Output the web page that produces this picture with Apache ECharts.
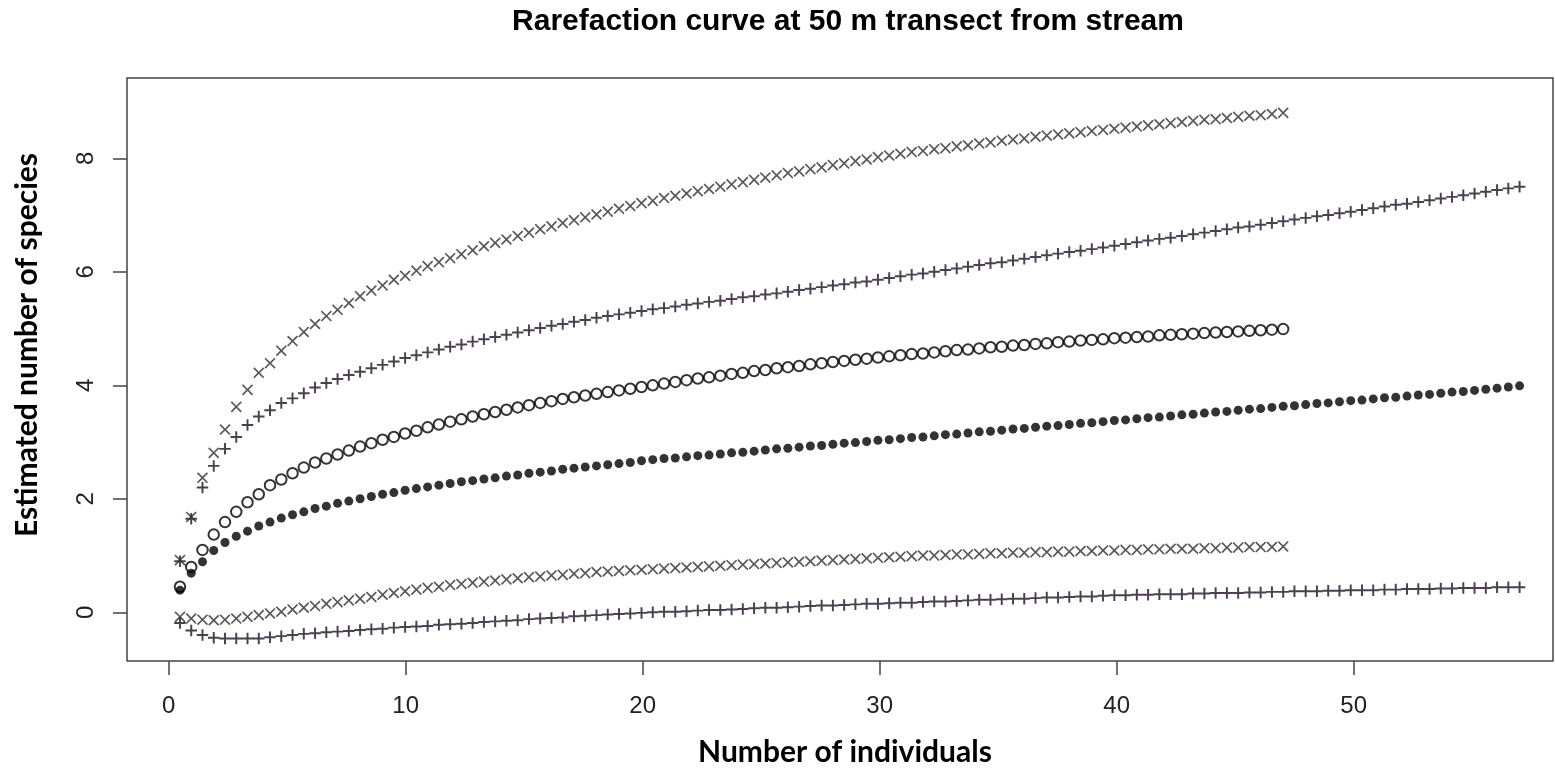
<!DOCTYPE html>
<html><head><meta charset="utf-8">
<script src="https://cdn.jsdelivr.net/npm/echarts@6/dist/echarts.min.js"></script>
<style>html,body{margin:0;padding:0;background:#fff}#c{width:1555px;height:768px}</style>
</head><body><div id="c"></div><script>
// x positions: uniform sample sizes
const xStep = 0.475;
const xTicks = [0, 10, 20, 30, 40, 50];
const yTicks = [0, 2, 4, 6, 8];

// Site A (57 individuals): mean (filled dots), upper/lower bounds (+)
const meanA = [0.39,0.69,0.89,1.09,1.23,1.34,1.43,1.52,1.59,1.66,
1.72,1.77,1.83,1.87,1.92,1.96,2.00,2.04,2.08,2.11,
2.15,2.18,2.21,2.24,2.27,2.30,2.32,2.35,2.37,2.40,
2.42,2.45,2.47,2.49,2.52,2.54,2.56,2.58,2.60,2.62,
2.64,2.67,2.69,2.71,2.72,2.74,2.76,2.77,2.79,2.81,
2.82,2.84,2.86,2.88,2.89,2.91,2.93,2.94,2.96,2.98,
2.99,3.01,3.03,3.04,3.06,3.08,3.09,3.11,3.13,3.14,
3.16,3.18,3.19,3.21,3.23,3.24,3.26,3.28,3.29,3.31,
3.33,3.34,3.36,3.38,3.39,3.41,3.43,3.44,3.46,3.48,
3.49,3.51,3.53,3.54,3.56,3.58,3.59,3.61,3.63,3.64,
3.66,3.68,3.69,3.71,3.73,3.74,3.76,3.78,3.79,3.81,
3.83,3.84,3.86,3.88,3.89,3.91,3.93,3.95,3.97,3.99];
const upperA = [0.90,1.65,2.20,2.58,2.88,3.09,3.30,3.45,3.56,3.69,
3.77,3.86,3.96,4.04,4.11,4.18,4.24,4.30,4.36,4.42,
4.48,4.53,4.58,4.63,4.68,4.72,4.77,4.81,4.85,4.89,
4.93,4.97,5.01,5.05,5.08,5.12,5.15,5.19,5.22,5.25,
5.28,5.31,5.34,5.36,5.39,5.42,5.44,5.47,5.49,5.52,
5.55,5.57,5.60,5.62,5.65,5.68,5.70,5.73,5.76,5.78,
5.81,5.83,5.86,5.89,5.92,5.95,5.97,6.00,6.03,6.06,
6.09,6.12,6.15,6.17,6.20,6.23,6.26,6.29,6.32,6.35,
6.37,6.40,6.43,6.46,6.49,6.52,6.55,6.58,6.60,6.63,
6.66,6.69,6.72,6.75,6.78,6.80,6.83,6.86,6.89,6.92,
6.95,6.98,7.00,7.03,7.06,7.09,7.12,7.15,7.18,7.20,
7.23,7.26,7.29,7.32,7.35,7.38,7.41,7.44,7.47,7.50];
const lowerA = [-0.19,-0.32,-0.40,-0.45,-0.46,-0.46,-0.46,-0.46,-0.44,-0.42,
-0.40,-0.38,-0.37,-0.35,-0.34,-0.33,-0.31,-0.30,-0.29,-0.27,
-0.26,-0.25,-0.24,-0.22,-0.21,-0.20,-0.19,-0.17,-0.16,-0.15,
-0.14,-0.12,-0.11,-0.10,-0.09,-0.07,-0.06,-0.05,-0.04,-0.03,
-0.02,-0.01,0.00,0.01,0.01,0.02,0.03,0.04,0.04,0.05,
0.06,0.07,0.08,0.08,0.09,0.10,0.11,0.12,0.12,0.13,
0.14,0.15,0.15,0.16,0.17,0.17,0.18,0.19,0.19,0.20,
0.21,0.22,0.22,0.23,0.24,0.24,0.25,0.26,0.26,0.27,
0.28,0.28,0.29,0.30,0.30,0.31,0.31,0.32,0.32,0.32,
0.33,0.33,0.34,0.34,0.34,0.35,0.35,0.36,0.36,0.37,
0.37,0.37,0.38,0.38,0.39,0.39,0.39,0.40,0.40,0.41,
0.41,0.41,0.42,0.42,0.43,0.43,0.43,0.44,0.44,0.44];

// Site B (47 individuals): mean (open circles), upper/lower bounds (x)
const meanB = [0.45,0.80,1.10,1.37,1.59,1.77,1.94,2.08,2.24,2.34,
2.45,2.55,2.64,2.71,2.78,2.85,2.92,2.98,3.04,3.09,
3.15,3.20,3.26,3.31,3.36,3.40,3.45,3.49,3.53,3.57,
3.61,3.65,3.69,3.72,3.76,3.79,3.82,3.85,3.88,3.91,
3.94,3.97,4.00,4.03,4.06,4.09,4.12,4.14,4.17,4.20,
4.22,4.25,4.27,4.30,4.32,4.34,4.37,4.39,4.41,4.43,
4.45,4.47,4.49,4.51,4.53,4.55,4.56,4.58,4.60,4.62,
4.63,4.65,4.67,4.68,4.70,4.71,4.73,4.74,4.76,4.77,
4.79,4.80,4.81,4.83,4.84,4.85,4.86,4.88,4.89,4.90,
4.91,4.92,4.93,4.94,4.95,4.96,4.97,4.98,4.99];
const upperB = [0.92,1.68,2.37,2.81,3.22,3.62,3.92,4.22,4.39,4.61,
4.78,4.94,5.08,5.22,5.33,5.45,5.57,5.67,5.76,5.86,
5.93,6.02,6.10,6.17,6.24,6.31,6.38,6.45,6.51,6.57,
6.63,6.69,6.75,6.80,6.86,6.91,6.96,7.01,7.06,7.11,
7.16,7.21,7.25,7.30,7.34,7.38,7.42,7.46,7.50,7.54,
7.58,7.62,7.66,7.70,7.74,7.77,7.81,7.84,7.88,7.91,
7.95,7.98,8.02,8.05,8.08,8.11,8.13,8.16,8.18,8.21,
8.23,8.26,8.28,8.31,8.33,8.35,8.38,8.40,8.42,8.44,
8.46,8.48,8.50,8.52,8.54,8.56,8.58,8.60,8.62,8.64,
8.66,8.68,8.69,8.71,8.73,8.75,8.76,8.78,8.80];
const lowerB = [-0.08,-0.11,-0.13,-0.14,-0.13,-0.11,-0.08,-0.05,-0.02,0.01,
0.05,0.08,0.11,0.15,0.18,0.21,0.24,0.27,0.31,0.34,
0.37,0.40,0.43,0.45,0.48,0.50,0.52,0.54,0.56,0.58,
0.60,0.62,0.63,0.65,0.66,0.68,0.69,0.71,0.72,0.73,
0.74,0.75,0.76,0.77,0.78,0.79,0.80,0.81,0.82,0.83,
0.84,0.85,0.86,0.87,0.88,0.89,0.90,0.91,0.92,0.93,
0.94,0.95,0.96,0.97,0.98,0.99,1.00,1.00,1.01,1.02,
1.02,1.03,1.04,1.04,1.05,1.05,1.06,1.06,1.07,1.07,
1.08,1.08,1.09,1.09,1.10,1.10,1.11,1.11,1.12,1.12,
1.12,1.13,1.13,1.14,1.14,1.15,1.15,1.15,1.16];

const pts = ys => ys.map((y, i) => [+(xStep * (i + 1)).toFixed(4), y]);
const plusPath = 'path://M4.15,0H5.85V4.15H10V5.85H5.85V10H4.15V5.85H0V4.15H4.15Z';
const crossPath = 'path://M4.4,0H5.6V4.4H10V5.6H5.6V10H4.4V5.6H0V4.4H4.4Z';

const chart = echarts.init(document.getElementById('c'), null, {renderer: 'canvas'});
const axisCol = '#444';
const labelFont = 'Liberation Sans, Arial, sans-serif';
chart.setOption({
  animation: false,
  backgroundColor: '#fff',
  grid: {left: 127, right: 2, top: 78, bottom: 107, show: true, borderColor: axisCol, borderWidth: 1.5, backgroundColor: 'transparent'},
  xAxis: {
    type: 'value', min: -1.76, max: 58.41, position: 'bottom',
    axisLine: {show: false, onZero: false}, splitLine: {show: false},
    axisTick: {show: true, inside: false, length: 14, customValues: xTicks, lineStyle: {color: axisCol, width: 1.5}},
    axisLabel: {customValues: xTicks, fontSize: 24, color: '#222', margin: 33, fontFamily: labelFont}
  },
  yAxis: {
    type: 'value', min: -0.858, max: 9.415, position: 'left',
    axisLine: {show: false, onZero: false}, splitLine: {show: false},
    axisTick: {show: true, inside: false, length: 14, customValues: yTicks, lineStyle: {color: axisCol, width: 1.5}},
    axisLabel: {customValues: yTicks, fontSize: 24, color: '#222', margin: 29, rotate: 90, fontFamily: labelFont}
  },
  series: [
    {type: 'scatter', name: 'A mean', data: pts(meanA), symbol: 'circle', symbolSize: 9,
      itemStyle: {color: '#000'}, silent: true, z: 3},
    {type: 'scatter', name: 'B mean', data: pts(meanB), symbol: 'emptyCircle', symbolSize: 10.5,
      itemStyle: {color: '#000', borderColor: '#000', borderWidth: 1.3}, silent: true, z: 2},
    {type: 'scatter', name: 'A upper', data: pts(upperA), symbol: plusPath, symbolSize: 11.5,
      itemStyle: {color: '#1e0f24'}, silent: true, z: 4},
    {type: 'scatter', name: 'A lower', data: pts(lowerA), symbol: plusPath, symbolSize: 11.5,
      itemStyle: {color: '#1e0f24'}, silent: true, z: 4},
    {type: 'scatter', name: 'B upper', data: pts(upperB), symbol: crossPath, symbolSize: 14, symbolRotate: 45,
      itemStyle: {color: '#2e2e2e'}, silent: true, z: 4},
    {type: 'scatter', name: 'B lower', data: pts(lowerB), symbol: crossPath, symbolSize: 14, symbolRotate: 45,
      itemStyle: {color: '#2e2e2e'}, silent: true, z: 4}
  ],
  graphic: [
    {type: 'text', x: 848, y: 22, silent: true,
      style: {text: 'Rarefaction curve at 50 m transect from stream', font: 'bold 30px "Liberation Sans", Arial, sans-serif',
        fill: '#000', align: 'center', verticalAlign: 'middle', textAlign: 'center', textVerticalAlign: 'middle'}},
    {type: 'text', x: 845, y: 752, silent: true,
      style: {text: 'Number of individuals', font: 'bold 30px Lato, "Open Sans", sans-serif',
        fill: '#000', align: 'center', verticalAlign: 'middle', textAlign: 'center', textVerticalAlign: 'middle'}},
    {type: 'text', x: 27, y: 345, rotation: Math.PI / 2, silent: true,
      style: {text: 'Estimated number of species', font: 'bold 30px Lato, "Open Sans", sans-serif',
        fill: '#000', align: 'center', verticalAlign: 'middle', textAlign: 'center', textVerticalAlign: 'middle'}}
  ]
});
</script></body></html>
